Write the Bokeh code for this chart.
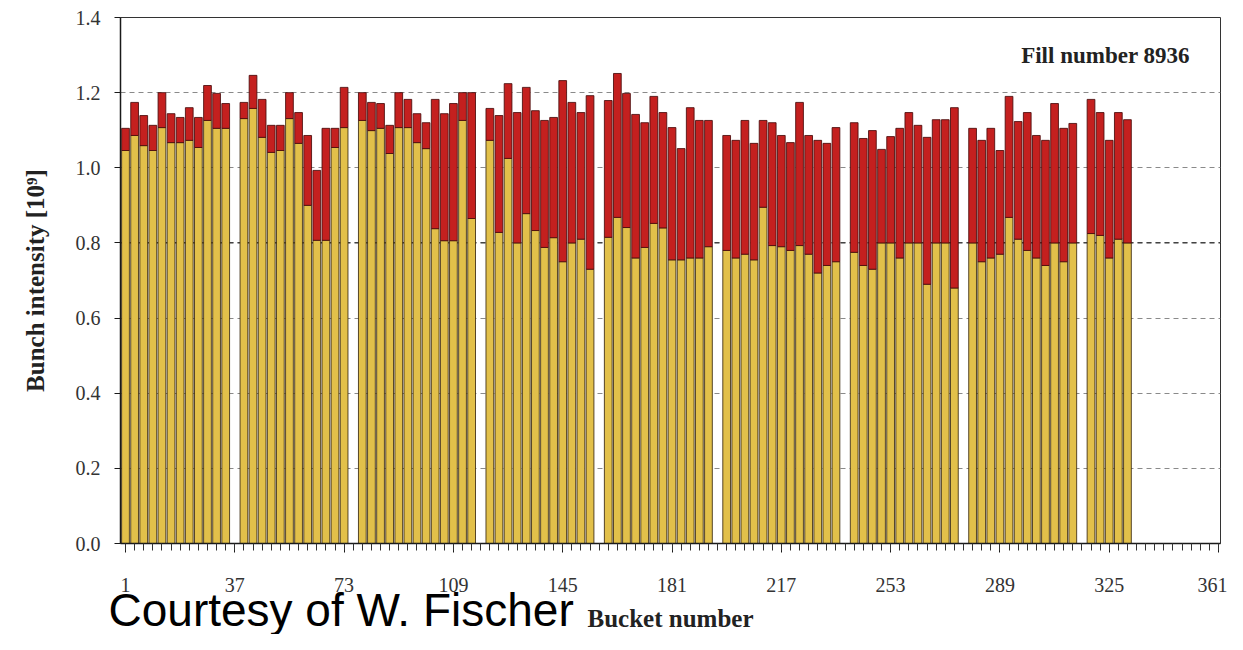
from bokeh.plotting import figure
from bokeh.models import Range1d, FixedTicker, Label, Span, ColumnDataSource, CustomJSTickFormatter, Title
from bokeh.embed import file_html
from bokeh.resources import INLINE

# Bucket numbers of the filled buckets
buckets = [1, 4, 7, 10, 13, 16, 19, 22, 25, 28, 31, 34,
           40, 43, 46, 49, 52, 55, 58, 61, 64, 67, 70, 73,
           79, 82, 85, 88, 91, 94, 97, 100, 103, 106, 109, 112, 115,
           121, 124, 127, 130, 133, 136, 139, 142, 145, 148, 151, 154,
           160, 163, 166, 169, 172, 175, 178, 181, 184, 187, 190, 193,
           199, 202, 205, 208, 211, 214, 217, 220, 223, 226, 229, 232, 235,
           241, 244, 247, 250, 253, 256, 259, 262, 265, 268, 271, 274,
           280, 283, 286, 289, 292, 295, 298, 301, 304, 307, 310, 313,
           319, 322, 325, 328, 331]

# Total bunch intensity (top of red bar), 10^9
total = [1.105, 1.174, 1.139, 1.113, 1.200, 1.144, 1.134, 1.160, 1.134, 1.219, 1.198, 1.171,
         1.174, 1.246, 1.182, 1.113, 1.113, 1.200, 1.147, 1.086, 0.993, 1.105, 1.105, 1.214,
         1.200, 1.174, 1.171, 1.113, 1.200, 1.182, 1.144, 1.120, 1.182, 1.144, 1.171, 1.200, 1.200,
         1.158, 1.139, 1.224, 1.147, 1.214, 1.152, 1.126, 1.134, 1.232, 1.174, 1.147, 1.192,
         1.179, 1.251, 1.198, 1.142, 1.120, 1.190, 1.147, 1.107, 1.051, 1.160, 1.126, 1.126,
         1.086, 1.073, 1.126, 1.065, 1.126, 1.120, 1.086, 1.067, 1.174, 1.086, 1.073, 1.065, 1.107,
         1.120, 1.078, 1.099, 1.049, 1.083, 1.105, 1.147, 1.113, 1.081, 1.128, 1.128, 1.160,
         1.105, 1.073, 1.105, 1.046, 1.190, 1.123, 1.147, 1.086, 1.073, 1.171, 1.105, 1.118,
         1.182, 1.147, 1.073, 1.147, 1.128]

# Lower (yellow) part of each bar, 10^9
yellow = [1.046, 1.086, 1.059, 1.046, 1.107, 1.067, 1.067, 1.073, 1.054, 1.126, 1.105, 1.105,
          1.131, 1.158, 1.081, 1.041, 1.046, 1.131, 1.065, 0.900, 0.807, 0.807, 1.054, 1.107,
          1.126, 1.099, 1.105, 1.038, 1.107, 1.107, 1.067, 1.051, 0.838, 0.806, 0.806, 1.126, 0.865,
          1.073, 0.828, 1.025, 0.800, 0.878, 0.833, 0.788, 0.814, 0.750, 0.800, 0.810, 0.730,
          0.815, 0.868, 0.841, 0.760, 0.788, 0.852, 0.840, 0.755, 0.755, 0.760, 0.760, 0.790,
          0.780, 0.760, 0.770, 0.755, 0.895, 0.793, 0.790, 0.780, 0.793, 0.770, 0.720, 0.740, 0.750,
          0.775, 0.740, 0.730, 0.800, 0.800, 0.760, 0.800, 0.800, 0.690, 0.800, 0.800, 0.680,
          0.800, 0.750, 0.760, 0.770, 0.868, 0.810, 0.780, 0.760, 0.740, 0.800, 0.750, 0.800,
          0.825, 0.820, 0.760, 0.810, 0.800]

x_tick_labels = [1, 37, 73, 109, 145, 181, 217, 253, 289, 325, 361]
x_minor = [b for b in range(1, 362, 3)]
y_ticks = [0.0, 0.2, 0.4, 0.6, 0.8, 1.0, 1.2, 1.4]

src = ColumnDataSource(dict(bucket=buckets, total=total, yellow=yellow))

p = figure(width=1227, height=634,
           x_range=Range1d(-0.65, 361.65), y_range=Range1d(0, 1.4),
           output_backend="svg", toolbar_location=None,
           min_border_left=120, min_border_right=7,
           min_border_top=17, min_border_bottom=91)

p.background_fill_color = "white"
p.border_fill_color = "white"
p.outline_line_color = "#333333"
p.outline_line_width = 1

p.vbar(x="bucket", width=2.55, bottom=0, top="yellow", source=src,
       fill_color="#E2C04A", line_color="#3b2a10", line_width=1, line_alpha=0.85)
p.vbar(x="bucket", width=2.55, bottom="yellow", top="total", source=src,
       fill_color="#C4201F", line_color="#4a0c0c", line_width=1, line_alpha=0.85)

ref = Span(location=0.8, dimension="width", line_color="#111111",
           line_dash="5 4", line_width=1, level="underlay")
p.add_layout(ref)

# grid
p.xgrid.grid_line_color = None
p.ygrid.grid_line_color = "#8a8a8a"
p.ygrid.grid_line_dash = "5 4"
p.ygrid.grid_line_width = 1

# axes
serif = "Liberation Serif"
p.xaxis.ticker = FixedTicker(ticks=x_tick_labels, minor_ticks=x_minor)
p.yaxis.ticker = FixedTicker(ticks=y_ticks)
p.yaxis.formatter = CustomJSTickFormatter(code="return tick.toFixed(1);")

for ax in (p.xaxis[0], p.yaxis[0]):
    ax.axis_line_color = "#1a1a1a"
    ax.axis_line_width = 1.5
    ax.major_tick_line_color = "#1a1a1a"
    ax.minor_tick_line_color = "#333333"
    ax.major_label_text_font = serif
    ax.major_label_text_font_size = "20px"
    ax.major_label_text_color = "#333333"
    ax.axis_label_text_font = serif
    ax.axis_label_text_font_style = "bold"
    ax.axis_label_text_font_size = "25px"
    ax.axis_label_text_color = "#222222"

p.xaxis.major_tick_in = 0
p.xaxis.major_tick_out = 9
p.xaxis.minor_tick_in = 0
p.xaxis.minor_tick_out = 7
p.xaxis.major_label_standoff = 25
p.xaxis.axis_label = "Bucket number"
p.xaxis.axis_label_standoff = 10

p.yaxis.major_tick_in = 0
p.yaxis.major_tick_out = 6
p.yaxis.minor_tick_line_color = None
p.yaxis.major_label_standoff = 14
p.yaxis.axis_label = "Bunch intensity [10⁹]"
p.yaxis.axis_label_standoff = 24

p.add_layout(Label(x=296, y=1.30, text="Fill number 8936", text_font=serif,
                   text_font_style="bold", text_font_size="23px",
                   text_color="#222222", text_baseline="middle"))

credit = Title(text="Courtesy of W. Fischer", align="left", offset=-12,
               vertical_align="top", standoff=-102,
               text_font="Liberation Sans", text_font_style="normal",
               text_font_size="46px", text_color="black")
p.add_layout(credit, "below")

open("out.html", "w").write(file_html(p, INLINE))
